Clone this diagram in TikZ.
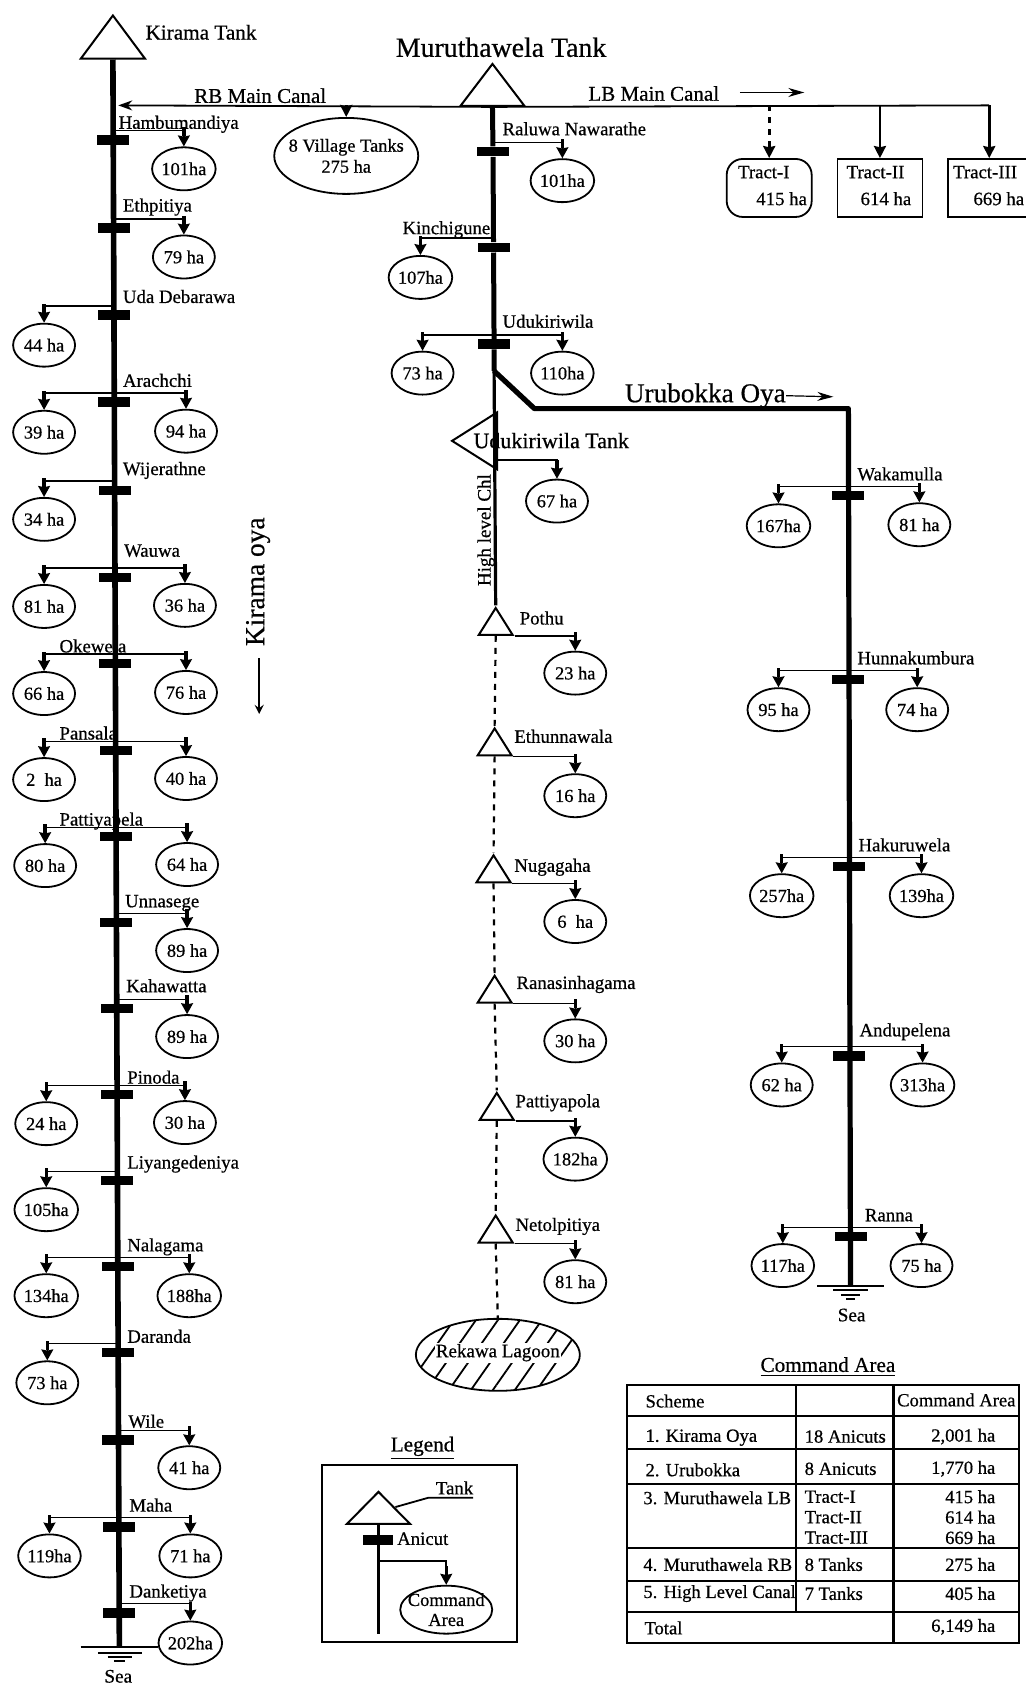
\documentclass[tikz,border=0pt]{standalone}
\usepackage{fontspec}
\setmainfont[FakeBold=0.6]{Liberation Serif}
\usepackage{tikz}
\usetikzlibrary{shapes.geometric, arrows.meta, patterns.meta, positioning}
\tikzset{
    area/.style={ellipse, draw, line width=0.9pt, inner sep=0pt, minimum width=31pt, minimum height=21.5pt, font=\fontsize{9.2}{10}\selectfont},
    place/.style={anchor=west, inner sep=0pt, yshift=-1pt, text height=6.2pt, text depth=2pt, font=\fontsize{9.4}{10}\selectfont},
    anicut/.style={rectangle, fill=black, inner sep=0pt, minimum width=16pt, minimum height=4.8pt},
    tank/.style={isosceles triangle, isosceles triangle stretches, shape border rotate=90, draw, line width=1pt, inner sep=0pt, anchor=apex, minimum width=17pt, minimum height=13.5pt},
    tract/.style={rectangle, draw, line width=0.9pt, inner sep=0pt, anchor=north west, minimum width=42.5pt, minimum height=29pt},
    cell/.style={anchor=west, inner sep=0pt, font=\fontsize{9.3}{10}\selectfont},
    num/.style={anchor=east, inner sep=0pt, font=\fontsize{9.3}{10}\selectfont},
    branch/.style={line width=0.75pt, -{Rectangle[length=4.5pt,width=1.7pt,sep=-0.5pt]Stealth[length=5.5pt,width=6pt,inset=0.6pt]}},
    drop/.style={line width=1.3pt, -{Stealth[length=6pt,width=6pt,inset=0.6pt]}},
    river/.style={line width=2.8pt},
    canal/.style={line width=0.9pt}
}

\begin{document}
\begin{tikzpicture}[x=0.5377pt, y=-0.5377pt, >=stealth]
    \useasboundingbox (0,0) rectangle (954,1568);

    % Kirama oya
    \node [tank, minimum width=32pt, minimum height=21.5pt] (kirama) at (105,12) {};
    \node [place, font=\fontsize{10.6}{12}\selectfont] (kiramaText) at (135,31) {Kirama Tank};
    \coordinate (kiramaSea) at (111,1532);
    \draw [river] (kirama.lower side) -- (kiramaSea);
    \node [rotate=90, inner sep=0pt, font=\fontsize{13.7}{15}\selectfont] (kiramaOya) at (240,541) {Kirama oya};
    \coordinate (oyaTip) at (241,664);
    \draw [line width=1pt, ->] (241,612) -- (oyaTip);

    \node [anicut] (hambum) at (105.3,130) {};
    \node [place] (hambumText) at (110,114) {Hambumandiya};
    \node [area] (hambumR) at (171,157) {101ha};
    \draw [branch] ([yshift=2pt]hambum.north) -| (hambumR.north);

    \node [anicut] (ethpi) at (105.6,212) {};
    \node [place] (ethpiText) at (114,191) {Ethpitiya};
    \node [area] (ethpiR) at (171,239) {79 ha};
    \draw [branch] ([yshift=2pt]ethpi.north) -| (ethpiR.north);

    \node [anicut] (uda) at (106,293) {};
    \node [place] (udaText) at (114,276) {Uda Debarawa};
    \node [area] (udaL) at (41,321) {44 ha};
    \draw [branch] ([yshift=2pt]uda.north) -| (udaL.north);

    \node [anicut] (arach) at (106.3,374) {};
    \node [place] (arachText) at (114,354) {Arachchi};
    \node [area] (arachL) at (41,402) {39 ha};
    \node [area] (arachR) at (173,401) {94 ha};
    \draw [branch] ([yshift=2pt]arach.north) -| (arachL.north);
    \draw [branch] ([yshift=2pt]arach.north) -| (arachR.north);

    \node [anicut] (wije) at (106.6,456) {};
    \node [place] (wijeText) at (114,436) {Wijerathne};
    \node [area] (wijeL) at (41,483) {34 ha};
    \draw [branch] ([yshift=2pt]wije.north) -| (wijeL.north);

    \node [anicut] (wauwa) at (107,537) {};
    \node [place] (wauwaText) at (115,512) {Wauwa};
    \node [area] (wauwaL) at (41,564) {81 ha};
    \node [area] (wauwaR) at (172,563) {36 ha};
    \draw [branch] ([yshift=2pt]wauwa.north) -| (wauwaL.north);
    \draw [branch] ([yshift=2pt]wauwa.north) -| (wauwaR.north);

    \node [anicut] (okewe) at (107.3,617) {};
    \node [place] (okeweText) at (55,601) {Okewela};
    \node [area] (okeweL) at (41,645) {66 ha};
    \node [area] (okeweR) at (173,644) {76 ha};
    \draw [branch] ([yshift=2pt]okewe.north) -| (okeweL.north);
    \draw [branch] ([yshift=2pt]okewe.north) -| (okeweR.north);

    \node [anicut] (pansa) at (107.6,698) {};
    \node [place] (pansaText) at (55,682) {Pansala};
    \node [area] (pansaL) at (41,725) {2\ \ ha};
    \node [area] (pansaR) at (173,724) {40 ha};
    \draw [branch] ([yshift=2pt]pansa.north) -| (pansaL.north);
    \draw [branch] ([yshift=2pt]pansa.north) -| (pansaR.north);

    \node [anicut] (patti) at (108,778) {};
    \node [place] (pattiText) at (55,762) {Pattiyapela};
    \node [area] (pattiL) at (42,805) {80 ha};
    \node [area] (pattiR) at (174,804) {64 ha};
    \draw [branch] ([yshift=2pt]patti.north) -| (pattiL.north);
    \draw [branch] ([yshift=2pt]patti.north) -| (pattiR.north);

    \node [anicut] (unna) at (108.3,858) {};
    \node [place] (unnaText) at (116,838) {Unnasege};
    \node [area] (unnaR) at (174,884) {89 ha};
    \draw [branch] ([yshift=2pt]unna.north) -| (unnaR.north);

    \node [anicut] (kaha) at (108.6,938) {};
    \node [place] (kahaText) at (117,917) {Kahawatta};
    \node [area] (kahaR) at (174,964) {89 ha};
    \draw [branch] ([yshift=2pt]kaha.north) -| (kahaR.north);

    \node [anicut] (pinoda) at (109,1018) {};
    \node [place] (pinodaText) at (118,1002) {Pinoda};
    \node [area] (pinodaL) at (43,1045) {24 ha};
    \node [area] (pinodaR) at (172,1044) {30 ha};
    \draw [branch] ([yshift=2pt]pinoda.north) -| (pinodaL.north);
    \draw [branch] ([yshift=2pt]pinoda.north) -| (pinodaR.north);

    \node [anicut] (liyan) at (109.2,1098) {};
    \node [place] (liyanText) at (118,1081) {Liyangedeniya};
    \node [area] (liyanL) at (43,1125) {105ha};
    \draw [branch] ([yshift=2pt]liyan.north) -| (liyanL.north);

    \node [anicut] (nala) at (109.6,1178) {};
    \node [place] (nalaText) at (118,1158) {Nalagama};
    \node [area] (nalaL) at (43,1205) {134ha};
    \node [area] (nalaR) at (176,1205) {188ha};
    \draw [branch] ([yshift=2pt]nala.north) -| (nalaL.north);
    \draw [branch] ([yshift=2pt]nala.north) -| (nalaR.north);

    \node [anicut] (daran) at (110,1258) {};
    \node [place] (daranText) at (118,1243) {Daranda};
    \node [area] (daranL) at (44,1286) {73 ha};
    \draw [branch] ([yshift=2pt]daran.north) -| (daranL.north);

    \node [anicut] (wile) at (110.2,1339) {};
    \node [place] (wileText) at (119,1322) {Wile};
    \node [area] (wileR) at (176,1365) {41 ha};
    \draw [branch] ([yshift=2pt]wile.north) -| (wileR.north);

    \node [anicut] (maha) at (110.5,1420) {};
    \node [place] (mahaText) at (120,1400) {Maha};
    \node [area] (mahaL) at (46,1447) {119ha};
    \node [area] (mahaR) at (177,1447) {71 ha};
    \draw [branch] ([yshift=2pt]maha.north) -| (mahaL.north);
    \draw [branch] ([yshift=2pt]maha.north) -| (mahaR.north);

    \node [anicut] (danke) at (110.9,1500) {};
    \node [place] (dankeText) at (120,1480) {Danketiya};
    \node [area] (dankeR) at (177,1528) {202ha};
    \draw [branch] ([yshift=2pt]danke.north) -| (dankeR.north);

    \draw [canal] (kiramaSea) ++(-36,0) -- ++(72,0);
    \draw [canal] (kiramaSea) ++(-20,5) -- ++(41,0);
    \draw [canal] (kiramaSea) ++(-11,9) -- ++(23,0);
    \draw [canal] (kiramaSea) ++(-5,13) -- ++(10,0);
    \node [inner sep=0pt, font=\fontsize{9.6}{10}\selectfont] (kiramaSeaText) at (110,1559) {Sea};

    % Muruthawela canals
    \node [tank, minimum width=32pt, minimum height=21pt] (muru) at (458,57) {};
    \node [inner sep=0pt, font=\fontsize{13.9}{15}\selectfont] (muruText) at (466,44) {Muruthawela Tank};
    \coordinate (rbEnd) at (110,98);
    \coordinate (lbEnd) at (920,98);
    \node [inner sep=0pt, font=\fontsize{10.5}{12}\selectfont] (rbText) at (242,89) {RB Main Canal};
    \node [inner sep=0pt, font=\fontsize{10.5}{12}\selectfont] (lbText) at (608,87) {LB Main Canal};
    \node [ellipse, draw, line width=0.9pt, inner xsep=-4pt, inner ysep=0pt, minimum width=72pt, minimum height=38pt, align=center, font=\fontsize{9.2}{10.5}\selectfont] (village) at (322,145) {8 Village Tanks\\275 ha};
    \node [tract, rounded corners=8pt] (tractOne) at (675,147) {};
    \node [place] (tractOneName) at (686,160) {Tract-I};
    \node [place] (tractOneArea) at (703,185) {415 ha};
    \node [tract] (tractTwo) at (778,147) {};
    \node [place] (tractTwoName) at (787,160) {Tract-II};
    \node [place] (tractTwoArea) at (800,185) {614 ha};
    \node [tract] (tractThree) at (881,147) {};
    \node [place] (tractThreeName) at (886,160) {Tract-III};
    \node [place] (tractThreeArea) at (905,185) {669 ha};
    \draw [canal, -{Stealth[length=7pt,width=5pt]}] (muru.lower side) -- (rbEnd);
    \draw [canal] (muru.lower side) -- (lbEnd);
    \draw [drop] (village.north |- rbEnd) -- (village.north);
    \draw [drop, dashed] (tractOne.north |- lbEnd) -- (tractOne.north);
    \draw [drop] (tractTwo.north |- lbEnd) -- (tractTwo.north);
    \draw [drop] (lbEnd) -- (lbEnd |- tractThree.north);
    \coordinate (lbArrow) at (748,86);
    \draw [line width=0.6pt, -{Stealth[length=8pt,width=4.5pt]}] (688,86) -- (lbArrow);

    % Central channel
    \node [anicut] (raluwa) at (458.5,141) {};
    \node [place] (raluwaText) at (467,120) {Raluwa Nawarathe};
    \node [area] (raluwaR) at (523,168) {101ha};
    \draw [branch] ([yshift=2pt]raluwa.north) -| (raluwaR.north);

    \node [anicut] (kinchi) at (459,230) {};
    \node [place] (kinchiText) at (374,212) {Kinchigune};
    \node [area] (kinchiL) at (391,258) {107ha};
    \draw [branch] ([yshift=2pt]kinchi.north) -| (kinchiL.north);

    \node [anicut] (uduki) at (459.5,320) {};
    \node [place] (udukiText) at (467,299) {Udukiriwila};
    \node [area] (udukiL) at (393,347) {73 ha};
    \node [area] (udukiR) at (523,347) {110ha};
    \draw [branch] ([yshift=2pt]uduki.north) -| (udukiL.north);
    \draw [branch] ([yshift=2pt]uduki.north) -| (udukiR.north);

    \coordinate (urubFork) at (459.5,345);
    \draw [line width=2.5pt] (muru.lower side) -- (raluwa) -- (kinchi) -- (uduki) -- (urubFork);

    % Udukiriwila Tank and High level channel
    \node [tank, shape border rotate=180, minimum width=28.5pt, minimum height=22.5pt] (udukTank) at (418,410) {};
    \node [place, font=\fontsize{11}{12}\selectfont] (udukTankText) at (440,411) {Udukiriwila Tank};
    \node [area] (udukTankR) at (518,466) {67 ha};
    \coordinate (udukTankOut) at (460,428);
    \draw [branch] (udukTankOut) -| (udukTankR.north);
    \node [rotate=90, inner sep=0pt, font=\fontsize{9.5}{10}\selectfont] (highText) at (452,493) {High level Chl};

    \node [tank] (pothu) at (461,563) {};
    \node [place] (pothuText) at (483,575) {Pothu};
    \node [area] (pothuR) at (535,626) {23 ha};
    \draw [branch] (pothu.right corner) -| (pothuR.north);
    \draw [line width=1.6pt] (urubFork) -- (pothu.apex);

    \node [tank] (ethun) at (460,675) {};
    \node [place] (ethunText) at (478,685) {Ethunnawala};
    \node [area] (ethunR) at (535,740) {16 ha};
    \draw [branch] (ethun.right corner) -| (ethunR.north);

    \node [tank] (nuga) at (459,793) {};
    \node [place] (nugaText) at (478,805) {Nugagaha};
    \node [area] (nugaR) at (535,857) {6\ \ ha};
    \draw [branch] (nuga.right corner) -| (nugaR.north);

    \node [tank] (rana) at (460,905) {};
    \node [place] (ranaText) at (480,914) {Ranasinhagama};
    \node [area] (ranaR) at (535,968) {30 ha};
    \draw [branch] (rana.right corner) -| (ranaR.north);

    \node [tank] (pattiya) at (462,1014) {};
    \node [place] (pattiyaText) at (479,1024) {Pattiyapola};
    \node [area] (pattiyaR) at (535,1078) {182ha};
    \draw [branch] (pattiya.right corner) -| (pattiyaR.north);

    \node [tank] (netol) at (461,1128) {};
    \node [place] (netolText) at (479,1139) {Netolpitiya};
    \node [area] (netolR) at (535,1192) {81 ha};
    \draw [branch] (netol.right corner) -| (netolR.north);

    \node [ellipse, draw, line width=0.9pt, inner sep=0pt, minimum width=82pt, minimum height=36pt, pattern={Lines[angle=55,distance=9pt,line width=0.9pt]}] (lagoon) at (463,1260) {};
    \node [fill=white, inner sep=0.6pt, font=\fontsize{9.5}{10}\selectfont] (lagoonText) at (463,1258) {Rekawa Lagoon};
    \draw [line width=1.1pt, dashed] (pothu.lower side) -- (ethun.apex);
    \draw [line width=1.1pt, dashed] (ethun.lower side) -- (nuga.apex);
    \draw [line width=1.1pt, dashed] (nuga.lower side) -- (rana.apex);
    \draw [line width=1.1pt, dashed] (rana.lower side) -- (pattiya.apex);
    \draw [line width=1.1pt, dashed] (pattiya.lower side) -- (netol.apex);
    \draw [line width=1.1pt, dashed] (netol.lower side) -- (lagoon.north);

    % Urubokka Oya
    \coordinate (urubBend) at (497,380);
    \coordinate (urubCorner) at (789,380);
    \coordinate (urubSea) at (791,1196);
    \draw [line width=2.6pt, line join=round] (urubFork) -- (urubBend) -- (urubCorner) -- (urubSea);
    \node [inner sep=0pt, font=\fontsize{13.6}{15}\selectfont] (urubText) at (656,368) {Urubokka Oya};
    \coordinate (urubArrow) at (775,369);
    \draw [line width=0.6pt, -{Stealth[length=8pt,width=4.5pt]}] (urubText.east) -- (urubArrow);

    \node [anicut] (waka) at (789,461) {};
    \node [place] (wakaText) at (797,441) {Wakamulla};
    \node [area] (wakaL) at (724,489) {167ha};
    \node [area] (wakaR) at (855,488) {81 ha};
    \draw [branch] ([yshift=2pt]waka.north) -| (wakaL.north);
    \draw [branch] ([yshift=2pt]waka.north) -| (wakaR.north);

    \node [anicut] (hunna) at (789,632) {};
    \node [place] (hunnaText) at (797,612) {Hunnakumbura};
    \node [area] (hunnaL) at (724,660) {95 ha};
    \node [area] (hunnaR) at (853,660) {74 ha};
    \draw [branch] ([yshift=2pt]hunna.north) -| (hunnaL.north);
    \draw [branch] ([yshift=2pt]hunna.north) -| (hunnaR.north);

    \node [anicut] (haku) at (790,806) {};
    \node [place] (hakuText) at (798,786) {Hakuruwela};
    \node [area] (hakuL) at (727,833) {257ha};
    \node [area] (hakuR) at (857,833) {139ha};
    \draw [branch] ([yshift=2pt]haku.north) -| (hakuL.north);
    \draw [branch] ([yshift=2pt]haku.north) -| (hakuR.north);

    \node [anicut] (andu) at (790,982) {};
    \node [place] (anduText) at (799,958) {Andupelena};
    \node [area] (anduL) at (727,1009) {62 ha};
    \node [area] (anduR) at (858,1009) {313ha};
    \draw [branch] ([yshift=2pt]andu.north) -| (anduL.north);
    \draw [branch] ([yshift=2pt]andu.north) -| (anduR.north);

    \node [anicut] (ranna) at (791,1150) {};
    \node [place] (rannaText) at (804,1130) {Ranna};
    \node [area] (rannaL) at (728,1177) {117ha};
    \node [area] (rannaR) at (857,1177) {75 ha};
    \draw [branch] ([yshift=2pt]ranna.north) -| (rannaL.north);
    \draw [branch] ([yshift=2pt]ranna.north) -| (rannaR.north);

    \draw [canal] (urubSea) ++(-31,0) -- ++(62,0);
    \draw [canal] (urubSea) ++(-16,4) -- ++(32,0);
    \draw [canal] (urubSea) ++(-9,8) -- ++(18,0);
    \draw [canal] (urubSea) ++(-4,12) -- ++(8,0);
    \node [inner sep=0pt, font=\fontsize{9.6}{10}\selectfont] (urubSeaText) at (792,1223) {Sea};

    % Legend
    \node [inner sep=0pt, font=\fontsize{10.6}{12}\selectfont] (legendTitle) at (393,1347) {\underline{Legend}};
    \draw [line width=1pt] (299,1362) rectangle (481,1527);
    \node [tank, minimum width=31.5pt, minimum height=16pt] (legendTank) at (352,1385) {};
    \node [place] (legendTankText) at (405,1384) {Tank};
    \draw [canal] (legendTank.right side) -- (398,1393) -- (440,1393);
    \node [anicut, minimum width=15pt] (legendAnicut) at (351.5,1432) {};
    \node [place] (legendAnicutText) at (369,1431) {Anicut};
    \coordinate (legendEnd) at (352,1520);
    \draw [line width=1.2pt] (legendTank.lower side) -- (legendEnd);
    \node [area, inner xsep=-8pt, inner ysep=-5pt, minimum width=46pt, minimum height=24pt, align=center, font=\fontsize{9.2}{10}\selectfont] (legendArea) at (415,1497) {Command\\Area};
    \draw [branch] ([yshift=-8pt]legendAnicut.south) -| (legendArea.north);

    % Command Area table
    \node [inner sep=0pt, font=\fontsize{10.6}{12}\selectfont] (tableTitle) at (770,1271) {\underline{Command Area}};
    \draw [line width=1pt] (583,1288) rectangle (948,1528);
    \draw [line width=1pt] (583,1317) -- (948,1317);
    \draw [line width=1pt] (583,1348) -- (948,1348);
    \draw [line width=1pt] (583,1380) -- (948,1380);
    \draw [line width=1pt] (583,1440) -- (948,1440);
    \draw [line width=1pt] (583,1470) -- (948,1470);
    \draw [line width=1pt] (583,1499) -- (948,1499);
    \draw [line width=1pt] (740,1288) -- (740,1499);
    \draw [line width=1.3pt] (831,1288) -- (831,1528);

    \node [cell] (rowScheme) at (600,1303) {Scheme};
    \node [cell] (rowHead) at (834,1302) {Command Area};
    \node [cell] (rowOne) at (600,1337) {1. Kirama Oya};
    \node [cell] (rowOneB) at (748,1336) {18 Anicuts};
    \node [num] (rowOneC) at (926,1336) {2,001 ha};
    \node [cell] (rowTwo) at (600,1367) {2. Urubokka};
    \node [cell] (rowTwoB) at (748,1366) {8 Anicuts};
    \node [num] (rowTwoC) at (926,1366) {1,770 ha};
    \node [cell] (rowThree) at (598,1393) {3. Muruthawela LB};
    \node [cell] (rowThreeB) at (748,1392) {Tract-I};
    \node [num] (rowThreeC) at (926,1392) {415 ha};
    \node [cell] (rowThreeD) at (748,1411) {Tract-II};
    \node [num] (rowThreeE) at (926,1411) {614 ha};
    \node [cell] (rowThreeF) at (748,1430) {Tract-III};
    \node [num] (rowThreeG) at (926,1430) {669 ha};
    \node [cell] (rowFour) at (598,1455) {4. Muruthawela RB};
    \node [cell] (rowFourB) at (748,1455) {8 Tanks};
    \node [num] (rowFourC) at (926,1455) {275 ha};
    \node [cell] (rowFive) at (598,1482) {5. High Level Canal};
    \node [cell] (rowFiveB) at (748,1482) {7 Tanks};
    \node [num] (rowFiveC) at (926,1482) {405 ha};
    \node [cell] (rowTotal) at (599,1514) {Total};
    \node [num] (rowTotalC) at (926,1513) {6,149 ha};
\end{tikzpicture}
\end{document}
